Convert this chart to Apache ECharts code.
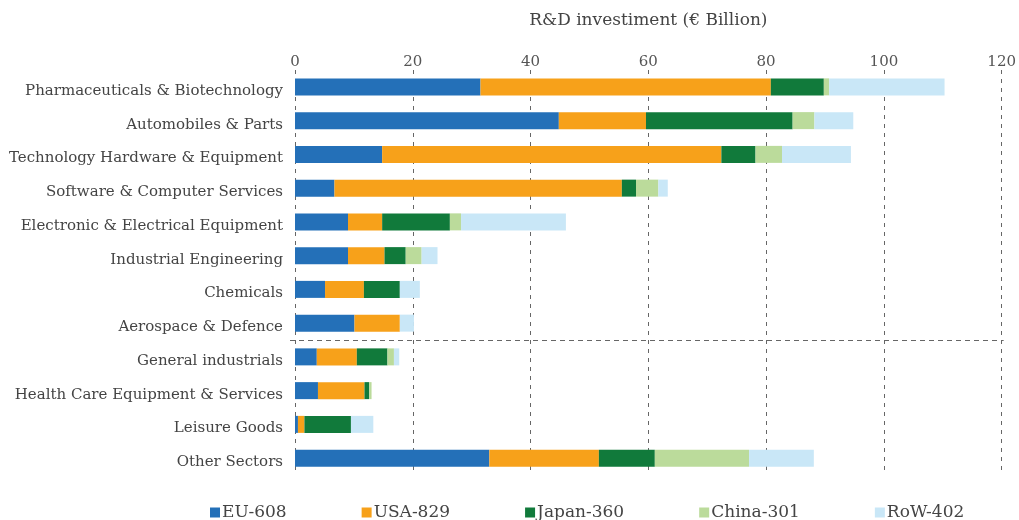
<!DOCTYPE html>
<html>
<head>
<meta charset="utf-8">
<script src="https://cdn.jsdelivr.net/npm/echarts@6/dist/echarts.min.js"></script>
<style>html,body{margin:0;padding:0;background:#fff}#c{width:1019px;height:520px}</style>
</head>
<body>
<div id="c"></div>
<script>
const categories = [
  'Pharmaceuticals & Biotechnology',
  'Automobiles & Parts',
  'Technology Hardware & Equipment',
  'Software & Computer Services',
  'Electronic & Electrical Equipment',
  'Industrial Engineering',
  'Chemicals',
  'Aerospace & Defence',
  'General industrials',
  'Health Care Equipment & Services',
  'Leisure Goods',
  'Other Sectors'
];
const seriesNames = ['EU-608', 'USA-829', 'Japan-360', 'China-301', 'RoW-402'];
const eu    = [31.5, 44.8, 14.8, 6.7, 9.0, 9.0, 5.1, 10.1, 3.7, 3.9, 0.5, 33.0];
const usa   = [49.3, 14.8, 57.6, 48.8, 5.8, 6.2, 6.6, 7.7, 6.8, 7.9, 1.1, 18.6];
const japan = [9.0, 24.9, 5.8, 2.4, 11.5, 3.6, 6.1, 0.0, 5.2, 0.8, 7.9, 9.5];
const china = [0.9, 3.7, 4.5, 3.8, 1.9, 2.7, 0.0, 0.0, 1.1, 0.4, 0.0, 16.0];
const row   = [19.6, 6.6, 11.7, 1.6, 17.8, 2.7, 3.4, 2.4, 0.9, 0.0, 3.8, 11.0];
const xTicks = [0, 20, 40, 60, 80, 100, 120];
const colors = ['#2470b8', '#f7a11a', '#117a3b', '#bbdb9b', '#c9e7f7'];
const values = [eu, usa, japan, china, row];

const font = 'DejaVu Serif';
const chart = echarts.init(document.getElementById('c'));
chart.setOption({
  animation: false,
  textStyle: { fontFamily: font },
  grid: { left: 295, right: 15, top: 70, bottom: 45 },
  legend: {
    data: seriesNames,
    top: 499,
    left: 205,
    icon: 'rect',
    itemWidth: 10,
    itemHeight: 10,
    itemGap: 75,
    textStyle: { fontFamily: font, fontSize: 17, color: '#444', padding: [0, 0, 0, -3] }
  },
  xAxis: {
    type: 'value',
    position: 'top',
    min: xTicks[0],
    max: xTicks[xTicks.length - 1],
    interval: 20,
    name: 'R&D investiment (€ Billion)',
    nameLocation: 'middle',
    nameGap: 41,
    nameTextStyle: { fontFamily: font, fontSize: 17, color: '#444' },
    axisLine: { show: false },
    axisTick: { show: false },
    axisLabel: { fontFamily: font, fontSize: 15, color: '#555', margin: 0 },
    splitLine: { show: true, lineStyle: { color: '#666', type: [4, 5], width: 1 } }
  },
  yAxis: {
    type: 'category',
    data: categories,
    inverse: true,
    axisLine: { show: false },
    axisTick: { show: false },
    axisLabel: {
      margin: 12,
      formatter: '{a|{value}}',
      rich: { a: { fontFamily: font, fontSize: 15, color: '#444', padding: [8, 0, 0, 0] } }
    }
  },
  series: seriesNames.map((n, i) => ({
    name: n,
    type: 'bar',
    stack: 'total',
    barWidth: 17,
    itemStyle: { color: colors[i] },
    data: values[i]
  }))
});

function drawSep() {
  const ya = chart.convertToPixel({ yAxisIndex: 0 }, categories[7]);
  const yb = chart.convertToPixel({ yAxisIndex: 0 }, categories[8]);
  const x0 = chart.convertToPixel({ xAxisIndex: 0 }, xTicks[0]);
  const x1 = chart.convertToPixel({ xAxisIndex: 0 }, xTicks[xTicks.length - 1]);
  const y = Math.round((ya + yb) / 2) + 0.5;
  chart.setOption({
    graphic: [{
      type: 'line',
      shape: { x1: x0 - 5, y1: y, x2: x1 + 2, y2: y },
      style: { stroke: '#666', lineWidth: 1, lineDash: [5, 4] },
      silent: true
    }]
  });
}
drawSep();
</script>
</body>
</html>
